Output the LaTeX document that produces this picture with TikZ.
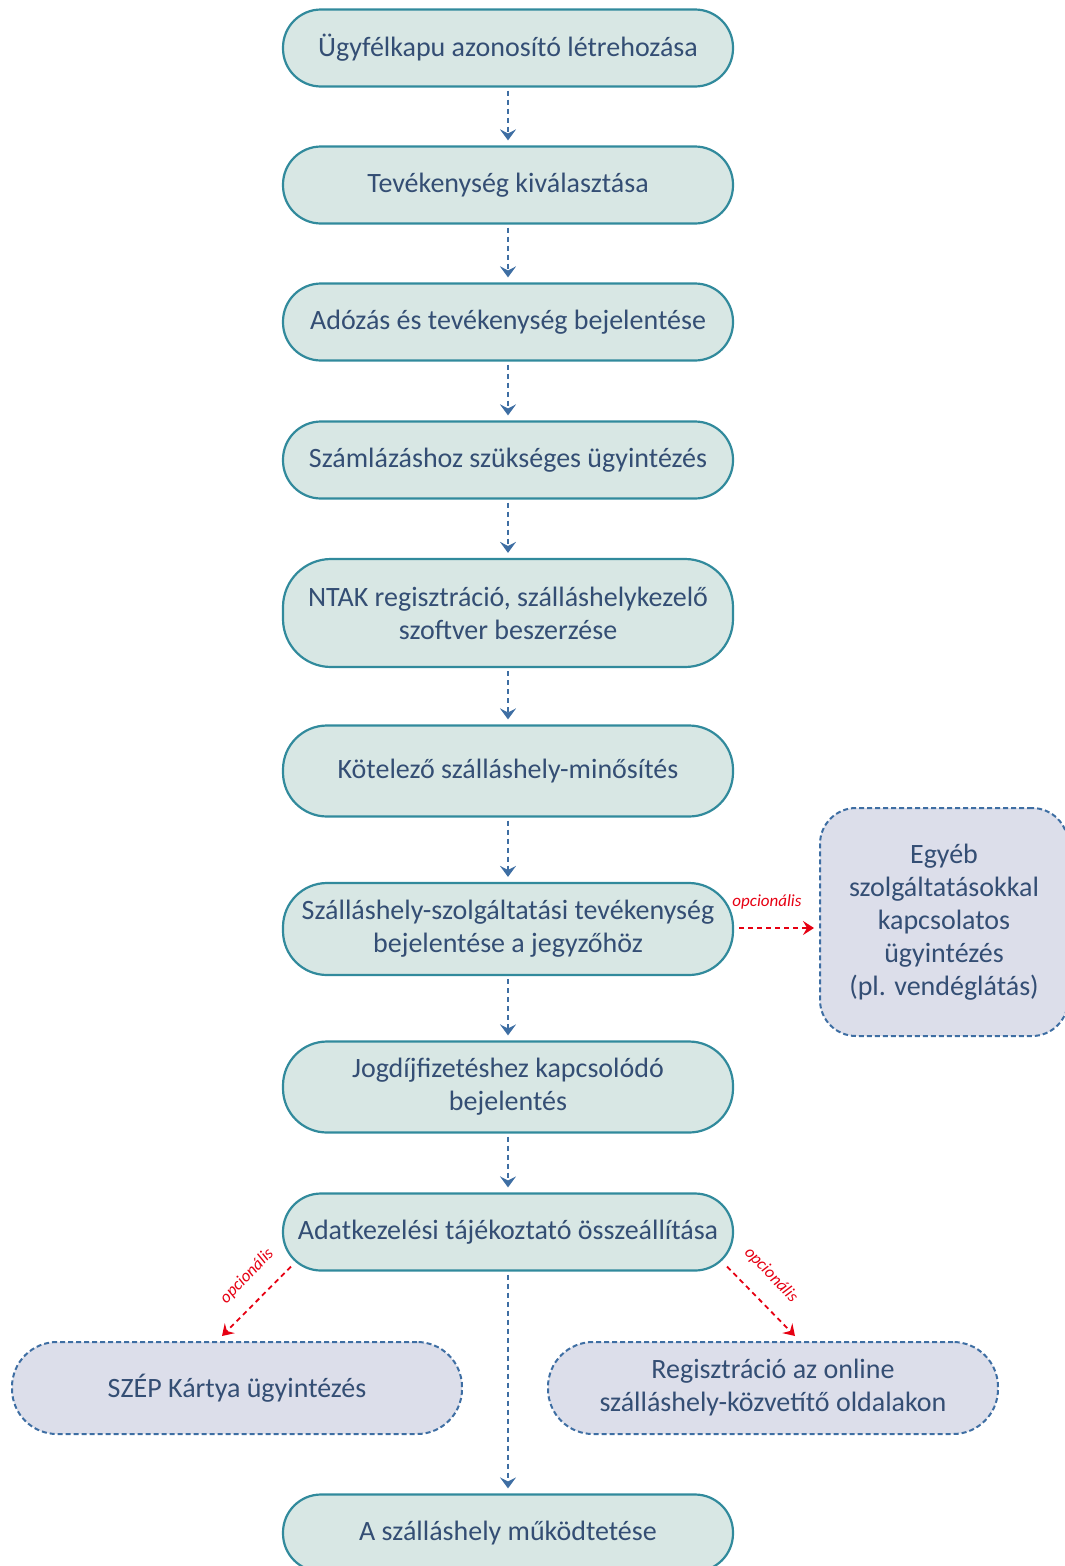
\documentclass[tikz,border=0pt]{standalone}
\usepackage{fontspec}
\setmainfont{Carlito}
\usetikzlibrary{arrows.meta,calc}
\definecolor{tealc}{RGB}{49,138,156}
\definecolor{tealfill}{RGB}{216,231,228}
\definecolor{txt}{RGB}{52,78,116}
\definecolor{ablue}{RGB}{62,110,163}
\definecolor{lav}{RGB}{220,222,234}
\definecolor{optred}{RGB}{230,0,18}
\tikzset{
  mainbox/.style={draw=tealc, fill=tealfill, line width=2.2pt, rounded corners=38pt,
    minimum width=450pt, minimum height=77pt, align=center, text=txt,
    font=\fontsize{28}{33}\selectfont, inner sep=0pt},
  optbox/.style={draw=ablue, fill=lav, line width=2pt, dash pattern=on 5pt off 3pt,
    align=center, text=txt, font=\fontsize{28}{33}\selectfont, inner sep=0pt},
  flow/.style={draw=ablue, line width=2.2pt, dash pattern=on 5pt off 4pt,
    -{Stealth[length=11pt,width=16pt,inset=4pt]}, shorten <=3pt, shorten >=5pt},
  optflow/.style={draw=optred, line width=1.8pt, dash pattern=on 5pt off 4pt,
    -{Stealth[length=11pt,width=14pt,inset=4pt]}},
  optlabel/.style={text=optred, font=\fontsize{17}{18}\selectfont\itshape, inner sep=0pt}
}
\begin{document}
\begin{tikzpicture}[x=1pt,y=-1pt]
\useasboundingbox (0,0) rectangle (1065,1566);
\node[mainbox] (n1) at (508,48) {Ügyfélkapu azonosító létrehozása};
\node[mainbox] (n2) at (508,185) {Tevékenység kiválasztása};
\node[mainbox] (n3) at (508,322) {Adózás és tevékenység bejelentése};
\node[mainbox] (n4) at (508,460) {Számlázáshoz szükséges ügyintézés};
\node[mainbox, minimum height=108pt, rounded corners=48pt] (n5) at (508,613) {NTAK regisztráció, szálláshelykezelő\\szoftver beszerzése};
\node[mainbox, minimum height=91pt, rounded corners=44pt] (n6) at (508,771) {Kötelező szálláshely-minősítés};
\node[mainbox, minimum height=92pt, rounded corners=44pt] (n7) at (508,929) {Szálláshely-szolgáltatási tevékenység\\bejelentése a jegyzőhöz};
\node[mainbox, minimum height=91pt, rounded corners=44pt] (n8) at (508,1087) {Jogdíjfizetéshez kapcsolódó\\bejelentés};
\node[mainbox] (n9) at (508,1232) {Adatkezelési tájékoztató összeállítása};
\node[mainbox] (n10) at (508,1533) {A szálláshely működtetése};

\node[optbox, minimum width=248pt, minimum height=228pt, rounded corners=36pt] (egy) at (944,922) {Egyéb\\szolgáltatásokkal\\kapcsolatos\\ügyintézés\\(pl. vendéglátás)};
\node[optbox, minimum width=450pt, minimum height=92pt, rounded corners=45pt] (szep) at (237,1388) {SZÉP Kártya ügyintézés};
\node[optbox, minimum width=450pt, minimum height=92pt, rounded corners=45pt] (reg) at (773,1388) {Regisztráció az online\\szálláshely-közvetítő oldalakon};

\draw[flow] (n1) -- (n2);
\draw[flow] (n2) -- (n3);
\draw[flow] (n3) -- (n4);
\draw[flow] (n4) -- (n5);
\draw[flow] (n5) -- (n6);
\draw[flow] (n6) -- (n7);
\draw[flow] (n7) -- (n8);
\draw[flow] (n8) -- (n9);
\draw[flow] (n9) -- (n10);

\draw[optflow] ($(n7.east)+(5,-1)$) -- ($(n7.east -| egy.west)+(-5,-1)$);
\node[optlabel] (l1) at (767,902) {opcionális};
\draw[optflow] ($(n9.south west)+(9,-5)$) -- ($(szep.north)+(-15,-5)$);
\node[optlabel, rotate=46] (l2) at (247,1276) {opcionális};
\draw[optflow] ($(n9.south east)+(-7,-5)$) -- ($(reg.north)+(22,-5)$);
\node[optlabel, rotate=-46] (l3) at (771,1275) {opcionális};
\end{tikzpicture}
\end{document}
